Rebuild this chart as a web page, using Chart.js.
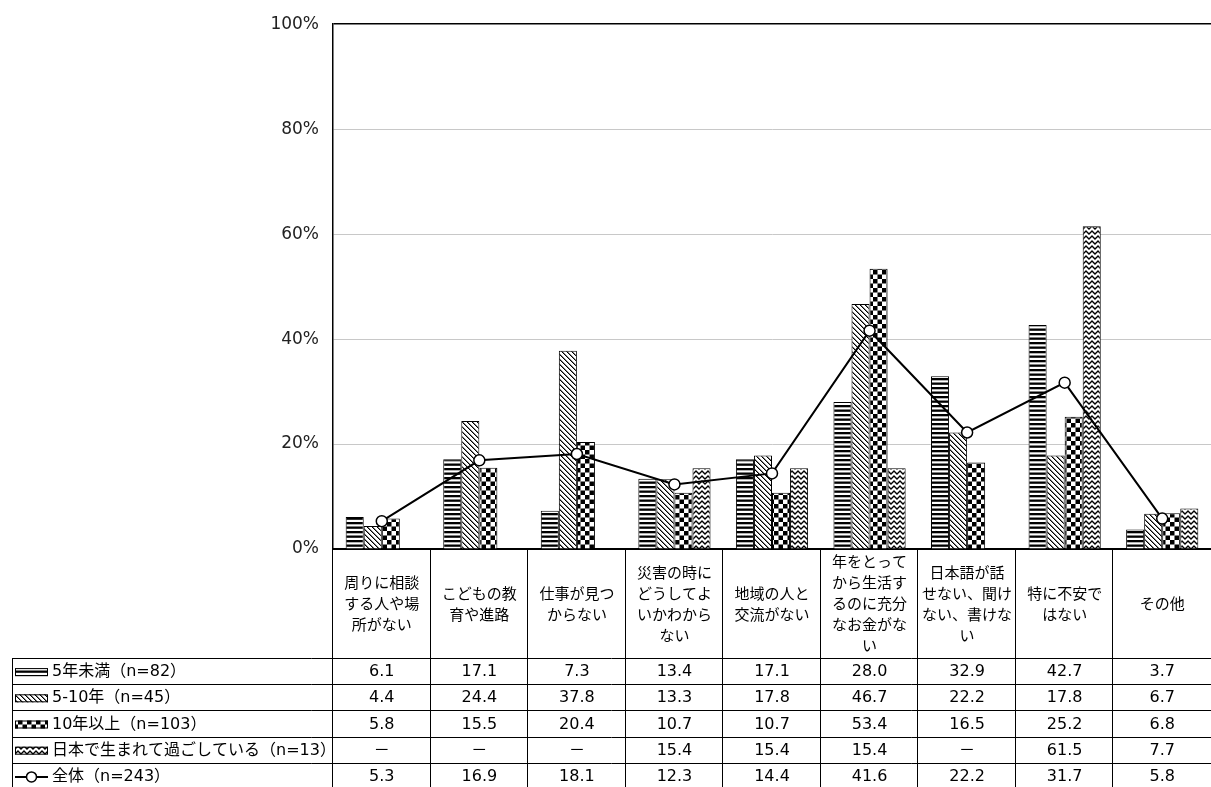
<!DOCTYPE html>
<html lang="ja">
<head>
<meta charset="utf-8">
<title>不安に思うこと（在留期間別）</title>
<script src="https://cdn.jsdelivr.net/npm/chart.js@4.4.1/dist/chart.umd.min.js"></script>
<style>
  html, body { margin: 0; padding: 0; background: #fff; }
  #wrap { width: 1211px; height: 787px; position: relative; }
</style>
</head>
<body>
<div id="wrap"><canvas id="anxietyChart" width="1211" height="787"></canvas></div>
<script>
// カテゴリ（改行位置は元の図に合わせる）
const CATEGORIES = [
    ['周りに相談', 'する人や場', '所がない'],
    ['こどもの教', '育や進路'],
    ['仕事が見つ', 'からない'],
    ['災害の時に', 'どうしてよ', 'いかわから', 'ない'],
    ['地域の人と', '交流がない'],
    ['年をとって', 'から生活す', 'るのに充分', 'なお金がな', 'い'],
    ['日本語が話', 'せない、聞け', 'ない、書けな', 'い'],
    ['特に不安で', 'はない'],
    ['その他']
];

const SERIES_NAMES = [
    '5年未満（n=82）',
    '5-10年（n=45）',
    '10年以上（n=103）',
    '日本で生まれて過ごしている（n=13）',
    '全体（n=243）'
];

const UNDER_5 = [6.1, 17.1, 7.3, 13.4, 17.1, 28.0, 32.9, 42.7, 3.7];
const FROM_5_TO_10 = [4.4, 24.4, 37.8, 13.3, 17.8, 46.7, 22.2, 17.8, 6.7];
const OVER_10 = [5.8, 15.5, 20.4, 10.7, 10.7, 53.4, 16.5, 25.2, 6.8];
const BORN_IN_JAPAN = [null, null, null, 15.4, 15.4, 15.4, null, 61.5, 7.7];
const TOTAL = [5.3, 16.9, 18.1, 12.3, 14.4, 41.6, 22.2, 31.7, 5.8];

const Y_TICKS = [0, 20, 40, 60, 80, 100];

// 欧文は幅の広い DejaVu、和文は Noto CJK
const FONT = '"DejaVu Sans", "Noto Sans CJK JP", sans-serif';
const CJK_FONT = '"Noto Sans CJK JP", sans-serif';

/**
 * 白黒のハッチング（Excel風）を作る
 */
function makePattern(w, h, drawFn) {
    const c = document.createElement('canvas');
    c.width = w;
    c.height = h;
    const g = c.getContext('2d');
    g.fillStyle = '#fff';
    g.fillRect(0, 0, w, h);
    g.fillStyle = '#000';
    g.strokeStyle = '#000';
    drawFn(g);
    return document.getElementById('anxietyChart').getContext('2d').createPattern(c, 'repeat');
}

const PATTERNS = [
    // 横縞
    makePattern(4, 9, g => {
        g.fillRect(0, 0, 4, 2.3);
        g.fillRect(0, 4.5, 4, 2.3);
    }),
    // 右下がり斜線
    makePattern(5, 5, g => {
        for (let i = 0; i < 5; i++) {
            g.fillRect(i, i, 1, 1);
            g.globalAlpha = 0.5;
            g.fillRect((i + 1) % 5, i, 1, 1);
            g.globalAlpha = 1;
        }
    }),
    // 市松模様
    makePattern(9, 9, g => {
        g.fillRect(0, 0, 4.5, 4.5);
        g.fillRect(4.5, 4.5, 4.5, 4.5);
    }),
    // ジグザグ
    makePattern(6, 5, g => {
        g.lineWidth = 1.3;
        g.beginPath();
        g.moveTo(-1.5, -0.5);
        g.lineTo(0, 1);
        g.lineTo(3, 4);
        g.lineTo(6, 1);
        g.lineTo(7.5, -0.5);
        g.stroke();
    })
];

const BAR_DATA = [UNDER_5, FROM_5_TO_10, OVER_10, BORN_IN_JAPAN];

const TABLE_TOP = 658;
const ROW_H = 26.2;
const TABLE_LEFT = 12;

// カテゴリ名とデータ表を軸の下に描く
const tablePlugin = {
    id: 'dataTable',
    afterDraw(chart) {
        const ctx = chart.ctx;
        const x = chart.scales.x;
        const area = chart.chartArea;
        const n = CATEGORIES.length;
        const catW = (area.right - area.left) / n;
        const H = chart.height;

        ctx.save();
        ctx.strokeStyle = '#000';
        ctx.lineWidth = 1;

        // 縦の区切り線（右端は画面外）
        for (let i = 0; i < n; i++) {
            const px = Math.round(area.left + i * catW) - 0.5;
            ctx.beginPath();
            ctx.moveTo(px, area.bottom);
            ctx.lineTo(px, H);
            ctx.stroke();
        }
        ctx.beginPath();
        ctx.moveTo(TABLE_LEFT + 0.5, TABLE_TOP);
        ctx.lineTo(TABLE_LEFT + 0.5, H);
        ctx.stroke();

        // 横の区切り線
        for (let r = 0; r <= SERIES_NAMES.length; r++) {
            const py = Math.round(TABLE_TOP + r * ROW_H) + 0.5;
            ctx.beginPath();
            ctx.moveTo(TABLE_LEFT, py);
            ctx.lineTo(area.right, py);
            ctx.stroke();
        }

        // カテゴリ名
        ctx.fillStyle = '#000';
        ctx.font = '15px ' + CJK_FONT;
        ctx.textAlign = 'center';
        ctx.textBaseline = 'middle';
        const midY = (area.bottom + TABLE_TOP) / 2;
        const lineH = 21;
        CATEGORIES.forEach((lines, i) => {
            const cx = x.getPixelForValue(i);
            const y0 = midY - (lines.length - 1) * lineH / 2;
            lines.forEach((t, k) => ctx.fillText(t, cx, y0 + k * lineH));
        });

        // データ表
        const allSeries = [UNDER_5, FROM_5_TO_10, OVER_10, BORN_IN_JAPAN, TOTAL];
        allSeries.forEach((vals, r) => {
            const cy = TABLE_TOP + r * ROW_H + ROW_H / 2 + 1;

            // 凡例アイコン
            if (r < 4) {
                ctx.fillStyle = PATTERNS[r];
                ctx.fillRect(15, cy - 4, 33, 8);
                ctx.strokeRect(15.5, cy - 3.5, 32, 7);
            } else {
                ctx.lineWidth = 2;
                ctx.beginPath();
                ctx.moveTo(15, cy);
                ctx.lineTo(48, cy);
                ctx.stroke();
                ctx.fillStyle = '#fff';
                ctx.lineWidth = 1.5;
                ctx.beginPath();
                ctx.arc(31.5, cy, 5, 0, Math.PI * 2);
                ctx.fill();
                ctx.stroke();
                ctx.lineWidth = 1;
            }

            ctx.fillStyle = '#000';
            ctx.font = '16px ' + FONT;
            ctx.textAlign = 'left';
            ctx.fillText(SERIES_NAMES[r], 52, cy);

            ctx.textAlign = 'center';
            vals.forEach((v, i) => {
                const label = v === null ? '－' : v.toFixed(1);
                ctx.fillText(label, x.getPixelForValue(i), cy);
            });
        });
        ctx.restore();
    }
};

const barDatasets = BAR_DATA.map((vals, i) => ({
    type: 'bar',
    label: SERIES_NAMES[i],
    data: vals,
    backgroundColor: PATTERNS[i],
    borderColor: '#000',
    borderWidth: 1,
    order: 2
}));

new Chart(document.getElementById('anxietyChart'), {
    data: {
        labels: CATEGORIES.map(c => c.join('')),
        datasets: [
            ...barDatasets,
            {
                type: 'line',
                label: SERIES_NAMES[4],
                data: TOTAL,
                borderColor: '#000',
                borderWidth: 2,
                pointRadius: 5.5,
                pointBackgroundColor: '#fff',
                pointBorderColor: '#000',
                pointBorderWidth: 1.5,
                tension: 0,
                order: 1
            }
        ]
    },
    options: {
        responsive: false,
        animation: false,
        devicePixelRatio: 1,
        layout: { autoPadding: false, padding: { top: 22, right: 0, bottom: 0, left: 0 } },
        datasets: {
            bar: { categoryPercentage: 0.74, barPercentage: 1.0 }
        },
        plugins: {
            legend: { display: false },
            tooltip: { enabled: false }
        },
        scales: {
            x: {
                ticks: { display: false },
                grid: { display: false },
                border: { display: true, color: '#000', width: 2 },
                afterFit(scale) { scale.height = 787 - 549; }
            },
            y: {
                min: 0,
                max: 100,
                afterBuildTicks(scale) { scale.ticks = Y_TICKS.map(v => ({ value: v })); },
                ticks: {
                    callback: v => v + '%',
                    font: { family: FONT, size: 17 },
                    color: '#222',
                    padding: 14
                },
                grid: {
                    drawTicks: false,
                    color: c => (c.tick && c.tick.value === 100) ? '#000' : '#c8c8c8',
                    lineWidth: c => (c.tick && c.tick.value === 100) ? 1.5 : 1
                },
                border: { display: true, color: '#000', width: 1.5 },
                afterFit(scale) { scale.width = 333; }
            }
        }
    },
    plugins: [tablePlugin]
});
</script>
</body>
</html>
